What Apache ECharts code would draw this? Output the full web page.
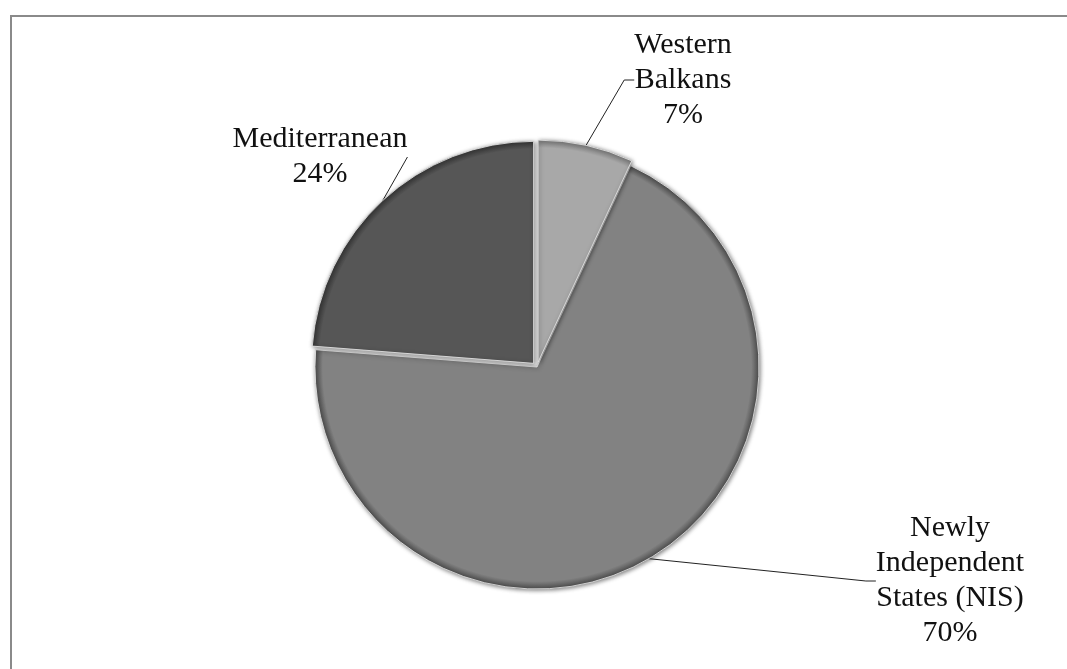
<!DOCTYPE html>
<html>
<head>
<meta charset="utf-8">
<title>Regional shares</title>
<script src="https://cdn.jsdelivr.net/npm/echarts@6/dist/echarts.min.js"></script>
<style>
  html, body { margin: 0; padding: 0; background: #ffffff; }
  #chart { width: 1067px; height: 669px; }
</style>
</head>
<body>
<div id="chart"></div>
<script>
// Regions and their share of the total (percent)
const regions = ['Western\nBalkans', 'Newly\nIndependent\nStates (NIS)', 'Mediterranean'];
const shares = [7, 70, 24];
// Slices pulled slightly away from the centre
const exploded = [true, false, true];

// Fill colours, one per region (body tone, rim tone)
const palette = ['#a8a8a8', '#828282', '#565656'];
const rimPalette = ['#7a7a7a', '#4e4e4e', '#363636'];
// Label anchor points (centre of each label block)
const labelSpots = [[683, 80], [950, 581], [320, 157]];

const PIE_CENTER = [537, 367];
const PIE_RADIUS = 222;
const EXPLODE_PX = 5;
const START_ANGLE = 90;

const chart = echarts.init(document.getElementById('chart'), null, { renderer: 'canvas' });

// Mid-angle of each slice (degrees, clockwise from the start angle)
const total = shares.reduce((a, b) => a + b, 0);
const midAngles = [];
let acc = 0;
shares.forEach(v => {
  midAngles.push(START_ANGLE - (acc + v / 2) / total * 360);
  acc += v;
});

const labelFont = {
  show: true,
  position: 'outside',
  formatter: '{b}\n{c}%',
  fontFamily: '"Liberation Serif", "Times New Roman", serif',
  fontSize: 30,
  lineHeight: 35,
  color: '#111111',
  align: 'center'
};

// Bevelled fill: flat body that darkens into a thin rim at the arc
function bevelFill(i, cx, cy) {
  return {
    type: 'radial',
    x: cx, y: cy, r: PIE_RADIUS,
    global: true,
    colorStops: [
      { offset: 0, color: palette[i] },
      { offset: 0.965, color: palette[i] },
      { offset: 1, color: rimPalette[i] }
    ]
  };
}

// One pie layer per region: only that region's slice is painted, so each
// slice can sit at its own (slightly pulled-out) centre.
const layers = regions.map((_, i) => {
  const rad = midAngles[i] * Math.PI / 180;
  const off = exploded[i] ? EXPLODE_PX : 0;
  const cx = PIE_CENTER[0] + off * Math.cos(rad);
  const cy = PIE_CENTER[1] - off * Math.sin(rad);
  return {
    type: 'pie',
    center: [cx, cy],
    radius: PIE_RADIUS,
    startAngle: START_ANGLE,
    clockwise: true,
    silent: true,
    z: i === 1 ? 1 : 2,
    emphasis: { disabled: true },
    label: labelFont,
    labelLine: {
      show: true,
      length: 20,
      length2: 10,
      lineStyle: { color: '#222222', width: 1 }
    },
    labelLayout: function (params) {
      const spot = labelSpots[params.dataIndex];
      return { x: spot[0], y: spot[1], align: 'center', verticalAlign: 'middle' };
    },
    data: regions.map((name, j) => {
      const own = j === i;
      return {
        name: name,
        value: shares[j],
        itemStyle: own ? {
          color: bevelFill(j, cx, cy),
          borderColor: 'rgba(235,235,235,0.8)',
          borderWidth: 1,
          shadowBlur: 4,
          shadowColor: 'rgba(0,0,0,0.5)',
          shadowOffsetX: 1,
          shadowOffsetY: 1
        } : { color: 'rgba(0,0,0,0)', borderWidth: 0 },
        label: { show: own },
        labelLine: { show: own }
      };
    })
  };
});

chart.setOption({
  animation: false,
  backgroundColor: '#ffffff',
  graphic: [{
    type: 'rect',
    shape: { x: 11, y: 16, width: 1100, height: 700 },
    style: { fill: 'none', stroke: '#8a8a8a', lineWidth: 2 },
    silent: true
  }],
  series: layers
});
</script>
</body>
</html>
